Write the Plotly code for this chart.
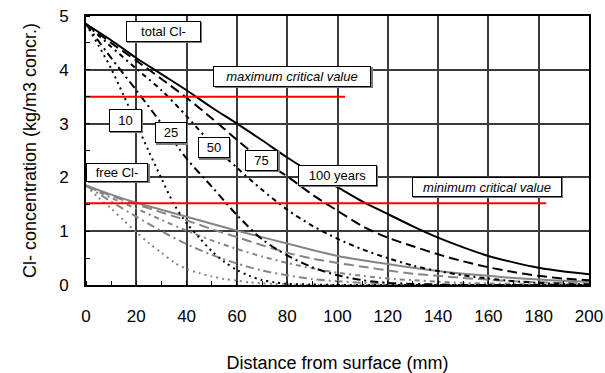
import plotly.graph_objects as go

# ---------------- data ----------------
x_grid = [0, 10, 20, 30, 40, 50, 60, 70, 80, 90, 100, 110, 120, 130, 140, 150, 160, 170, 180, 190, 200]
x_fine = [0, 5, 10, 15, 20, 25, 30, 35, 40, 45, 50, 55, 60, 65, 70, 75, 80, 90, 100, 120, 140, 160, 180, 200]

total_100 = [4.85, 4.55, 4.22, 3.92, 3.62, 3.30, 3.00, 2.69, 2.37, 2.08, 1.82, 1.55, 1.32, 1.09, 0.88, 0.70, 0.54, 0.42, 0.32, 0.25, 0.20]
total_75 = [4.85, 4.50, 4.17, 3.83, 3.48, 3.10, 2.70, 2.32, 2.02, 1.68, 1.38, 1.09, 0.88, 0.72, 0.57, 0.44, 0.33, 0.24, 0.17, 0.12, 0.09]
total_50 = [4.85, 4.43, 4.02, 3.62, 3.14, 2.62, 2.18, 1.77, 1.40, 1.10, 0.86, 0.66, 0.50, 0.36, 0.26, 0.18, 0.12, 0.07, 0.04, 0.02, 0.01]
total_25 = [4.85, 4.22, 3.62, 3.00, 2.35, 1.83, 1.30, 0.85, 0.55, 0.33, 0.18, 0.09, 0.04, 0.02, 0.01, 0.0, 0.0, 0.0, 0.0, 0.0, 0.0]
total_10 = [4.85, 4.45, 4.02, 3.52, 3.00, 2.48, 1.98, 1.50, 1.15, 0.88, 0.63, 0.43, 0.28, 0.17, 0.09, 0.05, 0.02, 0.01, 0.0, 0.0, 0.0, 0.0, 0.0, 0.0]

free_100 = [1.85, 1.68, 1.53, 1.40, 1.27, 1.14, 1.01, 0.89, 0.77, 0.65, 0.54, 0.46, 0.39, 0.32, 0.26, 0.21, 0.17, 0.13, 0.10, 0.08, 0.06]
free_75 = [1.85, 1.66, 1.50, 1.35, 1.20, 1.04, 0.89, 0.74, 0.60, 0.49, 0.41, 0.34, 0.27, 0.21, 0.17, 0.13, 0.10, 0.07, 0.05, 0.04, 0.03]
free_50 = [1.85, 1.62, 1.42, 1.21, 1.01, 0.83, 0.67, 0.53, 0.41, 0.31, 0.23, 0.17, 0.12, 0.09, 0.06, 0.04, 0.03, 0.02, 0.01, 0.01, 0.0]
free_25 = [1.85, 1.55, 1.27, 1.00, 0.76, 0.56, 0.40, 0.27, 0.18, 0.11, 0.07, 0.04, 0.02, 0.01, 0.0, 0.0, 0.0, 0.0, 0.0, 0.0, 0.0]
free_10 = [1.85, 1.62, 1.42, 1.20, 0.98, 0.78, 0.60, 0.42, 0.30, 0.22, 0.16, 0.11, 0.08, 0.05, 0.03, 0.02, 0.01, 0.0, 0.0, 0.0, 0.0, 0.0, 0.0, 0.0]

crit_names = ["maximum critical value", "minimum critical value"]
crit_values = [3.5, 1.52]
crit_x_end = [103, 183]

x_ticks = [0, 20, 40, 60, 80, 100, 120, 140, 160, 180, 200]
y_ticks = [0, 1, 2, 3, 4, 5]

FONT = "Liberation Sans, Arial, sans-serif"
BLACK = "#000000"
GRAY = "#858585"
GRID = "#3a3a3a"

fig = go.Figure()

styles = [
    (x_fine, total_10, free_10, "2px,4px"),
    (x_grid, total_25, free_25, "8px,4px,2px,4px"),
    (x_grid, total_50, free_50, "5px,4px,2px,4px"),
    (x_grid, total_75, free_75, "10px,5px"),
    (x_grid, total_100, free_100, "solid"),
]

# free chloride (gray)
for xs, tot, fre, dash in styles:
    fig.add_trace(go.Scatter(x=xs, y=fre, mode="lines",
                             line=dict(color=GRAY, width=2, dash=dash, shape="spline", smoothing=0.8),
                             showlegend=False, hoverinfo="skip"))
# total chloride (black)
for xs, tot, fre, dash in styles:
    fig.add_trace(go.Scatter(x=xs, y=tot, mode="lines",
                             line=dict(color=BLACK, width=2, dash=dash, shape="spline", smoothing=0.8),
                             showlegend=False, hoverinfo="skip"))

# critical value lines
for val, xe in zip(crit_values, crit_x_end):
    fig.add_trace(go.Scatter(x=[0, xe], y=[val, val], mode="lines",
                             line=dict(color="#ff0000", width=2),
                             showlegend=False, hoverinfo="skip"))

# boxed labels: text, x, y, width, height, italic
labels = [
    ("total Cl-", 30.7, 4.72, 75, 21, False),
    (crit_names[0], 82.1, 3.88, 158, 21, True),
    ("10", 15.7, 3.06, 33, 23, False),
    ("25", 33.6, 2.83, 32, 21, False),
    ("50", 50.8, 2.55, 32, 21, False),
    ("75", 69.9, 2.32, 33, 21, False),
    ("100 years", 99.9, 2.04, 79, 21, False),
    (crit_names[1], 159.3, 1.83, 150, 20, True),
    ("free Cl-", 12.5, 2.10, 62, 19, False),
]

annots = []
for text, ax, ay, w, h, it in labels:
    t = f"<i>{text}</i>" if it else text
    # shadow box (no text)
    annots.append(dict(x=ax, y=ay, xref="x", yref="y", text=" ", showarrow=False,
                       font=dict(family=FONT, size=13, color="#7a7a7a"),
                       bgcolor="#7a7a7a", bordercolor="#7a7a7a", borderwidth=1, borderpad=0,
                       width=w - 2, height=h - 2, xshift=1.5, yshift=-1.5))
    annots.append(dict(x=ax, y=ay, xref="x", yref="y", text=t, showarrow=False,
                       font=dict(family=FONT, size=13, color="#000000"),
                       bgcolor="#ffffff", bordercolor="#000000", borderwidth=1, borderpad=0,
                       width=w - 2, height=h - 2))

fig.update_layout(
    width=605, height=373,
    margin=dict(l=86, r=16, t=16, b=88, autoexpand=False),
    paper_bgcolor="white", plot_bgcolor="white",
    font=dict(family=FONT, size=17, color="#000000"),
    annotations=annots,
    showlegend=False,
)

fig.update_xaxes(
    range=[0, 200], tickvals=x_ticks, ticktext=[str(v) for v in x_ticks],
    showgrid=True, gridcolor=GRID, gridwidth=1.6,
    showline=True, linecolor="#000000", linewidth=2, mirror=True,
    ticks="", ticklabelstandoff=15,
    minor=dict(dtick=10, ticks="inside", ticklen=4, tickcolor="#000000", showgrid=False),
    tickfont=dict(family=FONT, size=17),
    title=dict(text="Distance from surface (mm)", font=dict(family=FONT, size=18), standoff=32),
    zeroline=False, automargin=False,
)
fig.update_yaxes(
    range=[0, 5], tickvals=y_ticks, ticktext=[str(v) for v in y_ticks],
    showgrid=True, gridcolor=GRID, gridwidth=1.6,
    showline=True, linecolor="#000000", linewidth=2, mirror=True,
    ticks="", ticklabelstandoff=12,
    minor=dict(dtick=0.5, ticks="inside", ticklen=4, tickcolor="#000000", showgrid=False),
    tickfont=dict(family=FONT, size=17),
    title=dict(text="Cl- concentration (kg/m3 concr.)", font=dict(family=FONT, size=18), standoff=18),
    zeroline=False, automargin=False,
)

fig.write_html("out.html", post_script="document.body.style.margin='0px';",
               config={"displayModeBar": False})
